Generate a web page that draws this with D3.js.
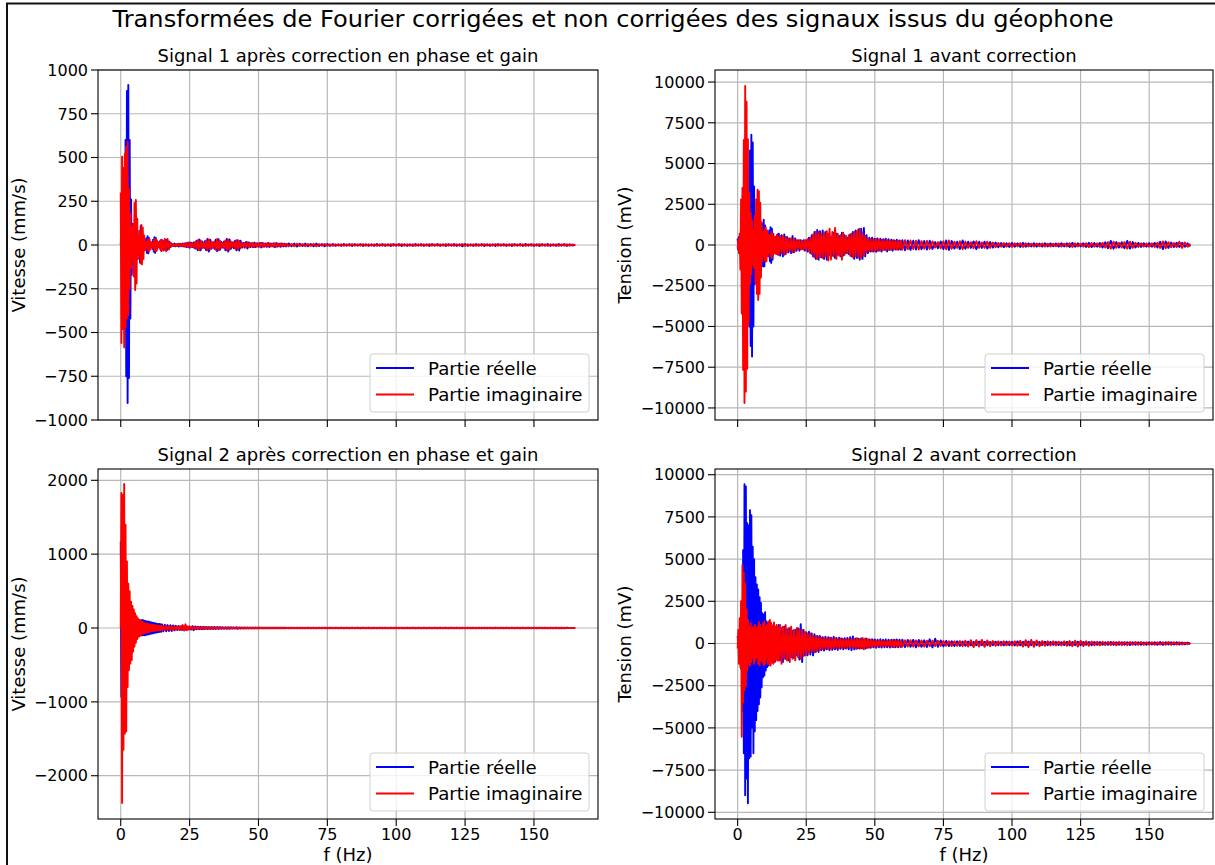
<!DOCTYPE html>
<html><head><meta charset="utf-8">
<script src="https://cdn.jsdelivr.net/npm/d3@7"></script>
<style>html,body{margin:0;padding:0;background:#fff;}svg{display:block;}</style>
</head><body>
<svg id="chart" width="1215" height="865"></svg>
<script>
// ---------- frequency bins (Hz): [start, end, step] ----------
const FREQ_SEGMENTS = [[0, 15, 0.25], [15, 60, 0.5], [60, 166, 1]];
const X_TICKS = [0, 25, 50, 75, 100, 125, 150];

// ---------- Signal 1, corrected (mm/s) ----------
const s1cReLow = [0,150,-200,240,-280,300,-420,600,-750,880,-903,914,-760,600,-420,260,-170,120,-90,110,
-150,170,-140,100,-60,40,-55,80,-100,110,-105,90,-70,45,-25,15,-25,38,-45,50,
-48,40,-28,15,-10,15,-22,30,-38,45,-45,40,-32,22,-12,10,-15,22,-28,30];
const s1cImLow = [300,-560,505,-480,440,-585,520,-470,560,-420,590,-400,320,-250,180,-130,100,-90,120,-180,
240,-257,257,-220,150,-80,40,-50,80,-105,114,-110,100,-80,55,-30,15,-12,20,-30,
35,-38,32,-25,15,-8,12,-18,25,-30,35,-35,30,-25,18,-10,12,-20,28,-35];
const s1cReMid = [-25,22,-28,30,-28,20,-12,8,-6,8,
-7,6,-8,7,-6,8,-9,10,-12,14,
-16,14,-12,15,-20,25,-30,32,-30,20,
-15,22,-30,35,-38,30,-20,15,-22,30,
-35,33,-28,18,-14,20,-30,34,-38,32,
-22,14,-18,25,-30,28,-32,25,-15,12,
-15,18,-20,15,-12,10,-12,14,-12,10,
-9,12,-14,12,-10,8,-10,12,-11,9,
-8,10,-12,11,-9,8,-10,9,-8,7];
const s1cImMid = [28,-32,35,-36,34,-25,14,-8,6,-7,
6,-5,7,-8,6,-7,9,-10,12,-12,
14,-12,10,-14,18,-22,28,-30,26,-18,
12,-18,26,-30,32,-26,18,-14,20,-28,
34,-30,24,-16,12,-18,26,-30,32,-28,
20,-12,16,-22,28,-26,24,-18,12,-10,
12,-15,16,-13,10,-9,11,-12,10,-9,
8,-10,12,-10,9,-7,9,-10,9,-8,
7,-9,10,-9,8,-7,8,-8,7,-6];
const s1cReHigh = [-8,9,-7,8,-9,7,-6,8,-7,6,
-7,8,-6,5,-7,6,-5,6,-5,4,
-5,6,-4,5,-6,5,-4,5,-6,4,
-5,4,-5,6,-4,5,-5,4,-6,5,
-4,5,-6,4,-5,4,-5,6,-4,5,
-5,4,-6,5,-4,5,-5,4,-6,5,
-4,6,-5,4,-7,6,-5,4,-5,6,
-4,5,-6,4,-5,4,-6,5,-4,5,
-5,4,-6,5,-4,5,-5,6,-4,5,
-5,4,-6,5,-4,6,-5,4,-5,6,
-4,5,-5,4,-3,2];
const s1cImHigh = [7,-8,6,-7,8,-6,5,-7,6,-5,
6,-7,5,-4,6,-5,4,-5,4,-4,
4,-5,4,-4,5,-4,4,-4,5,-4,
4,-4,4,-5,4,-4,4,-4,5,-4,
4,-4,5,-4,4,-4,4,-5,4,-4,
4,-4,5,-4,4,-4,4,-4,5,-4,
4,-5,4,-4,6,-5,4,-4,4,-5,
4,-4,5,-4,4,-4,5,-4,4,-4,
4,-4,5,-4,4,-4,4,-5,4,-4,
4,-4,5,-4,4,-5,4,-4,4,-5,
4,-4,4,-4,3,-2];

// ---------- Signal 1, before correction (mV) ----------
const s1uReLow = [400,-300,500,-450,600,-700,900,-1200,1500,-1800,2200,-2600,3000,-3200,3600,-3400,4200,-5000,5800,-6200,
6770,-6840,6300,-5000,3600,-2400,1800,-1300,1000,-800,700,-600,500,-700,900,-1100,1300,-1320,1550,-1300,
1200,-1000,800,-600,500,-700,900,-1000,1100,-1100,1000,-900,700,-500,400,-350,450,-550,650,-600];
const s1uImLow = [-200,300,-500,700,-1500,2800,-4200,3500,-7660,6450,-9700,9760,-9000,8800,-7600,6500,-4800,3200,-2400,2000,
-1800,1500,-1200,1000,-1400,1800,-2300,2800,-3000,3390,-3370,3300,-3000,2600,-2000,1400,-1000,800,-700,900,
-1000,1100,-1000,900,-700,600,-500,600,-700,800,-800,700,-600,500,-450,500,-550,600,-550,500];
const s1uReMid = [700,-650,600,-700,650,-550,500,-450,400,-500,
550,-450,400,-350,300,-350,300,-250,300,-350,
300,-400,450,-500,600,-700,800,-850,930,-900,
850,-750,900,-850,800,-900,700,-600,500,-650,
750,-800,700,-600,550,-700,750,-650,600,-500,
450,-550,650,-700,800,-850,900,-800,950,-900,
1000,-850,1050,-700,600,-500,450,-400,450,-400,
380,-420,400,-350,380,-400,350,-300,380,-400,
350,-300,320,-350,300,-280,320,-300,280,-300];
const s1uImMid = [-600,550,-500,550,-600,500,-450,400,-350,400,
-450,400,-350,300,-250,300,-280,250,-280,300,
-300,350,-400,450,-550,650,-750,800,-850,800,
-750,700,-800,750,-700,850,-950,1000,-900,800,
-700,1050,-850,700,-650,600,-900,750,-600,550,
-500,600,-650,700,-750,800,-700,850,-750,1000,
-800,700,-650,550,-450,400,-380,350,-400,350,
-350,380,-350,330,-350,320,-300,330,-320,300,
-300,280,-300,280,-260,250,-280,260,-250,240];
const s1uReHigh = [300,-320,280,-300,260,-280,300,-260,250,-280,
260,-240,180,-200,220,-250,280,-300,250,-220,
200,-250,280,-230,200,-180,220,-250,200,-180,
200,-220,180,-160,150,-140,120,-130,110,-120,
130,-110,100,-120,130,-110,100,-90,110,-100,
90,-100,110,-90,100,-80,90,-100,110,-90,
100,-120,130,-110,100,-90,110,-120,140,-130,
120,-110,130,-150,170,-200,250,-230,180,-150,
170,-200,250,-220,180,-150,130,-120,110,-100,
120,-110,130,-150,200,-250,220,-180,150,-130,
140,-120,130,-110,100,-80];
const s1uImHigh = [-280,300,-260,280,-250,260,-280,240,-230,250,
-240,220,-160,180,-200,230,-260,280,-230,200,
-180,230,-260,210,-180,170,-200,230,-180,160,
-180,200,-170,150,-140,130,-110,120,-100,110,
-120,100,-90,110,-120,100,-90,80,-100,90,
-80,90,-100,80,-90,75,-80,90,-100,80,
-90,110,-120,100,-90,80,-100,110,-130,120,
-110,100,-120,140,-160,180,-220,200,-170,140,
-160,180,-220,200,-170,140,-120,110,-100,90,
-110,100,-120,140,-180,220,-200,170,-140,120,
-130,200,-180,160,-110,70];

// ---------- Signal 2, corrected (mm/s) ----------
const s2cReLow = [1170,-930,800,-700,600,-500,450,-400,350,-300,280,-260,240,-220,200,-180,170,-160,150,-140,
140,-130,125,-120,115,-110,110,-108,105,-100,105,-100,108,-95,100,-98,95,-92,90,-88,
90,-85,82,-80,78,-75,72,-70,70,-66,64,-62,60,-58,56,-55,54,-52,50,-50];
const s2cImLow = [0,1830,-2370,1800,-1650,1950,-1430,1400,-1400,900,-800,600,-570,500,-480,356,-433,300,-320,250,
-250,200,-200,160,-150,130,-120,110,-100,95,-90,85,-80,75,-70,68,-65,62,-60,58,
-55,52,-50,48,-46,45,-44,42,-40,40,-38,36,-35,34,-33,32,-31,30,-30,29];
const s2cReMid = [48,-46,44,-45,40,-42,38,-40,35,-32,
30,-28,26,-25,24,-24,22,-22,22,-20,
20,-22,24,-30,22,-18,18,-17,16,-16,
16,-15,15,-14,14,-14,13,-13,13,-12,
12,-12,12,-11,11,-11,10,-10,10,-10,
10,-9,9,-9,10,-10,9,-8,8,-8,
8,-7,7,-7,7,-6,6,-6,6,-6,
6,-5,5,-5,5,-5,5,-5,5,-5,
5,-5,5,-4,4,-4,4,-4,4,-4];
const s2cImMid = [-28,28,-27,27,-26,25,-25,24,-24,22,
-22,22,-22,24,-26,40,-35,50,-30,22,
-18,17,-16,16,-15,14,-14,13,-13,12,
-12,12,-11,11,-11,10,-10,10,-10,9,
-9,9,-9,9,-8,8,-8,8,-8,7,
-7,7,-7,7,-7,6,-6,6,-6,6,
-6,6,-5,5,-5,5,-5,5,-5,5,
-5,5,-4,4,-4,4,-4,4,-4,4,
-4,4,-4,4,-4,4,-4,4,-4,4];
const s2cReHigh = [4,-4,3,-4,4,-3,4,-4,3,-3,
4,-3,4,-4,3,-4,4,-3,3,-4,
3,-3,4,-3,3,-4,3,-3,4,-3,
3,-4,3,-3,3,-3,4,-3,3,-3,
3,-3,4,-3,3,-3,3,-4,3,-3,
3,-3,3,-3,4,-3,3,-3,3,-3,
3,-4,3,-3,3,-3,3,-3,4,-3,
3,-3,3,-3,3,-4,3,-3,3,-3,
3,-3,4,-3,3,-3,3,-3,3,-4,
3,-3,3,-3,3,-3,4,-3,3,-3,
3,-3,3,-2,2,-2];
const s2cImHigh = [-3,3,-4,3,-3,3,-3,4,-3,3,
-3,3,-3,3,-4,3,-3,3,-3,3,
-4,3,-3,3,-3,3,-3,4,-3,3,
-3,3,-3,3,-4,3,-3,3,-3,3,
-3,4,-3,3,-3,3,-3,3,-4,3,
-3,3,-3,4,-3,3,-3,3,-3,3,
-3,3,-4,3,-3,3,-3,3,-3,4,
-3,3,-3,3,-3,3,-4,3,-3,3,
-3,4,-3,3,-3,3,-3,3,-3,3,
-4,3,-3,3,-3,3,-3,4,-3,3,
-3,3,-2,2,-2,1];

// ---------- Signal 2, before correction (mV) ----------
const s2uReLow = [450,-200,600,-800,1200,-1500,2500,-4000,5530,-6500,9440,-8990,9300,-8000,7120,-9470,7000,-6800,7900,-6700,
7600,-5000,5740,-6500,5000,-5200,3930,-4540,3500,-4000,3200,-3600,2750,-3200,2400,-2600,1800,-2000,1700,-1900,
1850,-1600,1300,-1400,1200,-1300,1100,-1200,1250,-1100,1000,-1150,1100,-1000,950,-1050,1000,-900,950,-1000];
const s2uImLow = [-300,800,-1200,1500,-1400,2500,-5530,4640,-3500,4200,-2770,3560,-2500,2000,-1600,1400,-1200,1000,-1300,1200,
-1100,900,-800,1000,-1200,1100,-1000,900,-800,1000,-1200,1280,-1300,1100,-1000,900,-1100,1200,-1280,1300,
-1200,1000,-900,1100,-1200,1300,-1250,1400,-1300,1200,-1100,1000,-1200,1250,-1100,1000,-900,1100,-1000,900];
const s2uReMid = [1100,-1000,900,-1100,1000,-900,850,-1000,900,-800,
750,-850,800,-700,900,-950,1150,-1100,800,-700,
650,-700,700,-650,600,-700,550,-500,450,-500,
450,-400,380,-420,400,-350,380,-400,350,-380,
400,-350,330,-380,350,-320,300,-350,320,-300,
330,-350,380,-400,420,-350,300,-320,280,-300,
300,-280,260,-300,280,-250,240,-260,250,-230,
240,-250,230,-220,250,-240,220,-230,240,-220,
230,-240,220,-210,230,-220,240,-230,220,-210];
const s2uImMid = [-1000,1100,-1200,1000,-900,1100,-1000,900,-1100,1000,
-900,800,-1000,900,-800,850,-900,800,-750,700,
-650,600,-550,600,-500,450,-500,450,-420,400,
-380,350,-330,350,-320,300,-330,350,-300,280,
-300,320,-280,260,-280,300,-260,250,-270,280,
-260,250,-240,260,-250,270,-300,320,-280,260,
-300,330,-350,300,-280,250,-240,220,-200,190,
-180,170,-160,170,-180,160,-150,160,-170,150,
-160,170,-180,200,-220,200,-180,170,-160,150];
const s2uReHigh = [230,-220,210,-200,220,-230,210,-200,190,-210,
250,-230,280,-200,180,-170,160,-150,140,-150,
130,-140,120,-130,120,-110,100,-110,120,-100,
110,-100,90,-100,110,-100,100,-110,120,-100,
110,-120,130,-110,100,-110,120,-100,90,-100,
100,-90,110,-100,90,-80,100,-90,80,-90,
100,-110,90,-100,110,-100,90,-80,90,-100,
90,-80,90,-80,70,-80,90,-80,70,-80,
80,-70,80,-90,80,-70,80,-70,60,-70,
70,-60,70,-80,90,-80,70,-60,70,-60,
70,-60,60,-50,50,-40];
const s2uImHigh = [-200,190,-180,200,-190,180,-170,180,-190,170,
-160,170,-150,160,-140,150,-130,140,-150,130,
-140,150,-160,170,-180,200,-220,200,-180,210,
-200,180,-160,150,-140,130,-120,130,-110,120,
-120,130,-140,160,-180,200,-210,220,-200,180,
-160,150,-140,130,-120,130,-120,110,-120,130,
-140,150,-160,170,-180,160,-150,140,-130,120,
-110,100,-110,100,-90,100,-90,100,-110,100,
-100,90,-100,90,-80,90,-80,90,-80,70,
-80,70,-80,70,-60,70,-80,90,-80,70,
-60,70,-60,50,-40,30];

// ---------- labels ----------
const SUPTITLE = "Transformées de Fourier corrigées et non corrigées des signaux issus du géophone";
const PANEL_TITLES = ["Signal 1 après correction en phase et gain", "Signal 1 avant correction",
                      "Signal 2 après correction en phase et gain", "Signal 2 avant correction"];
const Y_LABELS = ["Vitesse (mm/s)", "Tension (mV)", "Vitesse (mm/s)", "Tension (mV)"];
const X_LABEL = "f (Hz)";
const LEGEND_LABELS = ["Partie réelle", "Partie imaginaire"];
const Y_TICKS_1C = [-1000, -750, -500, -250, 0, 250, 500, 750, 1000];
const Y_TICKS_1U = [-10000, -7500, -5000, -2500, 0, 2500, 5000, 7500, 10000];
const Y_TICKS_2C = [-2000, -1000, 0, 1000, 2000];
const Y_TICKS_2U = [-10000, -7500, -5000, -2500, 0, 2500, 5000, 7500, 10000];

// ---------- build ----------
const freqs = FREQ_SEGMENTS.flatMap(([a, b, s]) => d3.range(0, Math.round((b - a) / s)).map(i => a + i * s));
const join = (a, b, c) => a.concat(b, c);
const series = [
  [join(s1cReLow, s1cReMid, s1cReHigh), join(s1cImLow, s1cImMid, s1cImHigh)],
  [join(s1uReLow, s1uReMid, s1uReHigh), join(s1uImLow, s1uImMid, s1uImHigh)],
  [join(s2cReLow, s2cReMid, s2cReHigh), join(s2cImLow, s2cImMid, s2cImHigh)],
  [join(s2uReLow, s2uReMid, s2uReHigh), join(s2uImLow, s2uImMid, s2uImHigh)]
];
series.forEach((p, i) => p.forEach((s, j) => {
  if (s.length !== freqs.length) throw new Error("length mismatch panel " + i + " series " + j + ": " + s.length + " vs " + freqs.length);
}));

const panels = [
  {x0: 98,  x1: 598,  y0: 70,  y1: 420, yd: [-1000, 1000],   yt: Y_TICKS_1C, xl: false, ylx: 25},
  {x0: 715, x1: 1213, y0: 70,  y1: 420, yd: [-10740, 10740], yt: Y_TICKS_1U, xl: false, ylx: 631},
  {x0: 98,  x1: 598,  y0: 469, y1: 819, yd: [-2586, 2153],   yt: Y_TICKS_2C, xl: true,  ylx: 25},
  {x0: 715, x1: 1213, y0: 469, y1: 819, yd: [-10397, 10338], yt: Y_TICKS_2U, xl: true,  ylx: 631}
];

const FONT = "'DejaVu Sans', 'Liberation Sans', sans-serif";
const svg = d3.select("#chart");
svg.append("rect").attr("width", 1215).attr("height", 865).attr("fill", "#fff");
const fmt = v => v < 0 ? "\u2212" + Math.abs(v) : String(v);

svg.append("text").attr("x", 613).attr("y", 27).attr("text-anchor", "middle")
  .attr("font-family", FONT).attr("font-size", 23.5).attr("fill", "#000")
  .attr("textLength", 1001).attr("lengthAdjust", "spacingAndGlyphs").text(SUPTITLE);

panels.forEach((p, i) => {
  const x = d3.scaleLinear().domain([-8.25, 173.25]).range([p.x0, p.x1]);
  const y = d3.scaleLinear().domain(p.yd).range([p.y1, p.y0]);
  const g = svg.append("g");
  const clipId = "clip" + i;
  g.append("clipPath").attr("id", clipId).append("rect")
    .attr("x", p.x0).attr("y", p.y0).attr("width", p.x1 - p.x0).attr("height", p.y1 - p.y0);

  // grid
  g.selectAll(".gx").data(X_TICKS).enter().append("line")
    .attr("x1", d => x(d)).attr("x2", d => x(d)).attr("y1", p.y0).attr("y2", p.y1)
    .attr("stroke", "#b8b8b8").attr("stroke-width", 1.2);
  g.selectAll(".gy").data(p.yt).enter().append("line")
    .attr("y1", d => y(d)).attr("y2", d => y(d)).attr("x1", p.x0).attr("x2", p.x1)
    .attr("stroke", "#b8b8b8").attr("stroke-width", 1.2);

  // data
  const line = d3.line().x((d, k) => x(freqs[k])).y(d => y(d));
  const colors = ["#0000ff", "#ff0000"];
  series[i].forEach((s, j) => {
    g.append("path").datum(s).attr("d", line).attr("fill", "none")
      .attr("stroke", colors[j]).attr("stroke-width", 1.9).attr("stroke-linejoin", "round")
      .attr("clip-path", "url(#" + clipId + ")");
  });

  // spines
  g.append("rect").attr("x", p.x0).attr("y", p.y0).attr("width", p.x1 - p.x0).attr("height", p.y1 - p.y0)
    .attr("fill", "none").attr("stroke", "#000").attr("stroke-width", 1.1);

  // ticks
  g.selectAll(".ty").data(p.yt).enter().append("line")
    .attr("x1", p.x0 - 7).attr("x2", p.x0).attr("y1", d => y(d)).attr("y2", d => y(d))
    .attr("stroke", "#000").attr("stroke-width", 1.1);
  g.selectAll(".tyl").data(p.yt).enter().append("text")
    .attr("x", p.x0 - 10).attr("y", d => y(d)).attr("dy", "0.36em").attr("text-anchor", "end")
    .attr("font-family", FONT).attr("font-size", 16).attr("fill", "#000").text(fmt);
  g.selectAll(".tx").data(X_TICKS).enter().append("line")
    .attr("x1", d => x(d)).attr("x2", d => x(d)).attr("y1", p.y1).attr("y2", p.y1 + 7)
    .attr("stroke", "#000").attr("stroke-width", 1.1);
  if (p.xl) {
    g.selectAll(".txl").data(X_TICKS).enter().append("text")
      .attr("x", d => x(d)).attr("y", p.y1 + 21).attr("text-anchor", "middle")
      .attr("font-family", FONT).attr("font-size", 16).attr("fill", "#000").text(fmt);
    g.append("text").attr("x", (p.x0 + p.x1) / 2).attr("y", p.y1 + 42).attr("text-anchor", "middle")
      .attr("font-family", FONT).attr("font-size", 18).attr("fill", "#000").text(X_LABEL);
  }

  // titles / labels
  g.append("text").attr("x", (p.x0 + p.x1) / 2).attr("y", p.y0 - 8).attr("text-anchor", "middle")
    .attr("font-family", FONT).attr("font-size", 18).attr("fill", "#000").text(PANEL_TITLES[i]);
  g.append("text").attr("transform", `translate(${p.ylx},${(p.y0 + p.y1) / 2}) rotate(-90)`)
    .attr("text-anchor", "middle").attr("font-family", FONT).attr("font-size", 18).attr("fill", "#000")
    .text(Y_LABELS[i]);

  // legend
  const lw = 219, lh = 58;
  const lx = p.x1 - 9 - lw, ly = p.y1 - 8 - lh;
  g.append("rect").attr("x", lx).attr("y", ly).attr("width", lw).attr("height", lh).attr("rx", 3)
    .attr("fill", "#fff").attr("fill-opacity", 0.8).attr("stroke", "#d0d0d0").attr("stroke-width", 1);
  LEGEND_LABELS.forEach((lab, j) => {
    const cy = ly + 14 + j * 26.5;
    g.append("line").attr("x1", lx + 6).attr("x2", lx + 44).attr("y1", cy).attr("y2", cy)
      .attr("stroke", colors[j]).attr("stroke-width", 2);
    g.append("text").attr("x", lx + 58).attr("y", cy).attr("dy", "0.36em")
      .attr("font-family", FONT).attr("font-size", 18.2).attr("fill", "#000").text(lab);
  });
});

// window frame
svg.append("line").attr("x1", 6).attr("x2", 1215).attr("y1", 3.5).attr("y2", 3.5).attr("stroke", "#111").attr("stroke-width", 2);
svg.append("line").attr("x1", 7).attr("x2", 7).attr("y1", 3).attr("y2", 865).attr("stroke", "#111").attr("stroke-width", 2);
</script>
</body></html>
